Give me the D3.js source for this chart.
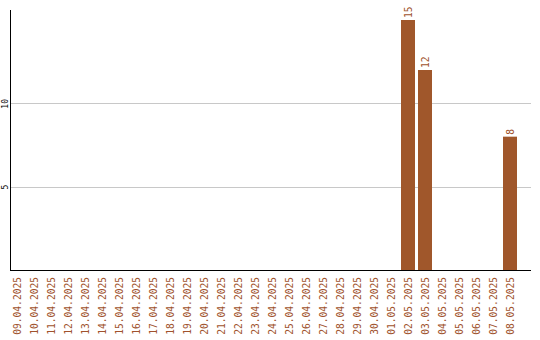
<!DOCTYPE html>
<html>
<head>
<meta charset="utf-8">
<script src="https://cdn.jsdelivr.net/npm/d3@7"></script>
<style>
  html, body { margin: 0; padding: 0; background: #fff; }
  svg { display: block; }
  text { font-family: "DejaVu Sans Mono", "Liberation Mono", monospace; }
</style>
</head>
<body>
<svg id="chart" width="540" height="340"></svg>
<script>
// Daily counts, 09.04.2025 – 08.05.2025
const dates = [
  "09.04.2025", "10.04.2025", "11.04.2025", "12.04.2025", "13.04.2025",
  "14.04.2025", "15.04.2025", "16.04.2025", "17.04.2025", "18.04.2025",
  "19.04.2025", "20.04.2025", "21.04.2025", "22.04.2025", "23.04.2025",
  "24.04.2025", "25.04.2025", "26.04.2025", "27.04.2025", "28.04.2025",
  "29.04.2025", "30.04.2025", "01.05.2025", "02.05.2025", "03.05.2025",
  "04.05.2025", "05.05.2025", "06.05.2025", "07.05.2025", "08.05.2025"
];
const counts = [
  0, 0, 0, 0, 0,
  0, 0, 0, 0, 0,
  0, 0, 0, 0, 0,
  0, 0, 0, 0, 0,
  0, 0, 0, 15, 12,
  0, 0, 0, 0, 8
];
const yTicks = [5, 10];

const data = dates.map((d, i) => ({ date: d, value: counts[i] }));

const svg = d3.select("#chart");
const plotLeft = 10, plotRight = 531, plotTop = 10, plotBottom = 270;
const barColor = "#a0572b";
const labelColor = "#a0522d";

const x = d3.scaleBand()
  .domain(dates)
  .range([plotLeft, 517])
  .paddingInner(3 / 17)
  .paddingOuter(0)
  .align(0);

const y = d3.scaleLinear()
  .domain([0, 15.6])
  .range([plotBottom, plotTop]);

// horizontal grid
svg.append("g")
  .selectAll("line")
  .data(yTicks)
  .join("line")
  .attr("x1", plotLeft)
  .attr("x2", plotRight)
  .attr("y1", d => Math.round(y(d)) + 0.5)
  .attr("y2", d => Math.round(y(d)) + 0.5)
  .attr("stroke", "#c8c8c8")
  .attr("stroke-width", 1);

// bars
svg.append("g")
  .selectAll("rect")
  .data(data.filter(d => d.value > 0))
  .join("rect")
  .attr("x", d => x(d.date))
  .attr("y", d => y(d.value))
  .attr("width", x.bandwidth())
  .attr("height", d => y(0) - y(d.value))
  .attr("fill", barColor);

// value labels above bars
svg.append("g")
  .selectAll("text")
  .data(data.filter(d => d.value > 0))
  .join("text")
  .attr("transform", d => `translate(${x(d.date) + x.bandwidth() / 2 + 3.5},${y(d.value) - 2}) rotate(-90)`)
  .attr("text-anchor", "start")
  .attr("font-size", 9.6)
  .attr("fill", labelColor)
  .text(d => d.value);

// x axis labels
const xAxis = svg.append("g")
  .attr("transform", `translate(0,${plotBottom})`)
  .call(d3.axisBottom(x).tickSize(0).tickSizeOuter(0));
xAxis.select(".domain").remove();
xAxis.selectAll("text")
  .attr("transform", "translate(3.5,7) rotate(-90)")
  .attr("x", 0)
  .attr("y", 0)
  .attr("dy", 0)
  .attr("text-anchor", "end")
  .attr("font-size", 9.6)
  .attr("font-family", "DejaVu Sans Mono")
  .attr("fill", labelColor);

// y axis labels
const yAxis = svg.append("g")
  .call(d3.axisLeft(y).tickValues(yTicks).tickSize(0).tickSizeOuter(0));
yAxis.select(".domain").remove();
yAxis.selectAll("text")
  .attr("transform", "translate(8,0) rotate(-90)")
  .attr("x", 0)
  .attr("y", 0)
  .attr("dy", 0)
  .attr("text-anchor", "middle")
  .attr("font-size", 8)
  .attr("font-family", "DejaVu Sans Mono")
  .attr("fill", "#000");

// axis lines
svg.append("line")
  .attr("x1", plotLeft + 0.5).attr("x2", plotLeft + 0.5)
  .attr("y1", plotTop).attr("y2", plotBottom + 1)
  .attr("stroke", "#000").attr("stroke-width", 1);
svg.append("line")
  .attr("x1", plotLeft).attr("x2", plotRight)
  .attr("y1", plotBottom + 0.5).attr("y2", plotBottom + 0.5)
  .attr("stroke", "#000").attr("stroke-width", 1);
</script>
</body>
</html>
